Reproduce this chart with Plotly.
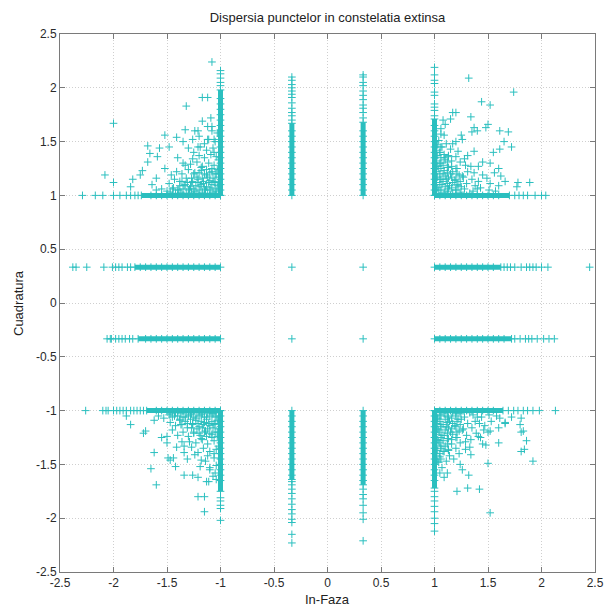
import plotly.graph_objects as go

# ---------------- data ----------------
TITLE = "Dispersia punctelor in constelatia extinsa"
X_LABEL = "In-Faza"
Y_LABEL = "Cuadratura"
tick_vals = [-2.5, -2, -1.5, -1, -0.5, 0, 0.5, 1, 1.5, 2, 2.5]
tick_text = ["-2.5", "-2", "-1.5", "-1", "-0.5", "0", "0.5", "1", "1.5", "2", "2.5"]

# inner constellation points (+-1/3, +-1/3)
inner_x = [-0.333, 0.333, -0.333, 0.333]
inner_y = [0.333, 0.333, -0.333, -0.333]

# vertical columns at I = -1/3 and I = +1/3 (dense run + sparse tail)
colA_x = -0.333
colB_x = 0.333
colA_top_run = [1.00, 1.05, 1.10, 1.15, 1.20, 1.25, 1.30, 1.35, 1.40, 1.45, 1.50, 1.55, 1.60, 1.67]
colA_top_sparse = [1.70, 1.74, 1.77, 1.81, 1.86, 1.91, 1.94, 1.97, 2.00, 2.03, 2.07, 2.10]
colB_top_run = [1.00, 1.05, 1.10, 1.15, 1.20, 1.25, 1.30, 1.35, 1.40, 1.45, 1.50, 1.55, 1.60, 1.68]
colB_top_sparse = [1.72, 1.77, 1.81, 1.84, 1.89, 1.93, 1.97, 2.02, 2.05, 2.10, 2.12]
colA_bot_run = [-1.00, -1.05, -1.10, -1.15, -1.20, -1.25, -1.30, -1.35, -1.40, -1.45, -1.50, -1.55, -1.60, -1.64]
colA_bot_sparse = [-1.66, -1.69, -1.73, -1.77, -1.82, -1.87, -1.92, -1.96, -2.01, -2.04, -2.15, -2.23]
colB_bot_run = [-1.00, -1.05, -1.10, -1.15, -1.20, -1.25, -1.30, -1.35, -1.40, -1.45, -1.50, -1.55, -1.60, -1.65, -1.69]
colB_bot_sparse = [-1.73, -1.78, -1.82, -1.88, -1.95, -2.01, -2.21]

# horizontal rows at Q = +1/3 and Q = -1/3
rowA_y = 0.333
rowB_y = -0.333
rowA_left_run = [-1.00, -1.05, -1.10, -1.15, -1.20, -1.25, -1.30, -1.35, -1.40, -1.45, -1.50, -1.55, -1.60, -1.65, -1.70, -1.75, -1.80]
rowA_left_sparse = [-1.84, -1.87, -1.92, -1.95, -1.98, -2.01, -2.09, -2.25, -2.35, -2.38]
rowA_right_run = [1.00, 1.05, 1.10, 1.15, 1.20, 1.25, 1.30, 1.35, 1.40, 1.45, 1.50, 1.55, 1.62]
rowA_right_sparse = [1.65, 1.68, 1.71, 1.75, 1.81, 1.86, 1.89, 1.92, 1.95, 2.00, 2.06, 2.45]
rowB_left_run = [-1.00, -1.05, -1.10, -1.15, -1.20, -1.25, -1.30, -1.35, -1.40, -1.45, -1.50, -1.55, -1.60, -1.65, -1.70, -1.77]
rowB_left_sparse = [-1.82, -1.85, -1.89, -1.92, -1.95, -1.98, -2.02, -2.03, -2.06]
rowB_right_run = [1.00, 1.05, 1.10, 1.15, 1.20, 1.25, 1.30, 1.35, 1.40, 1.45, 1.50, 1.55, 1.60, 1.65, 1.72]
rowB_right_sparse = [1.75, 1.80, 1.85, 1.88, 1.91, 1.96, 2.02, 2.07, 2.12]

# corner clusters: edge along Q=+-1 ("base") and along I=+-1 ("edge")
tl_base_run = [-1.00, -1.05, -1.10, -1.15, -1.20, -1.25, -1.30, -1.35, -1.40, -1.45, -1.50, -1.55, -1.60, -1.65, -1.74]
tl_base_sparse = [-1.77, -1.80, -1.84, -1.88, -1.94, -2.00, -2.10, -2.17, -2.29]
tl_edge_run = [1.00, 1.05, 1.10, 1.15, 1.20, 1.25, 1.30, 1.35, 1.40, 1.45, 1.50, 1.55, 1.60, 1.65, 1.70, 1.75, 1.80, 1.85, 1.90, 1.98]
tl_edge_sparse = [2.02, 2.05, 2.09, 2.13, 2.16]
tr_base_run = [1.00, 1.05, 1.10, 1.15, 1.20, 1.25, 1.30, 1.35, 1.40, 1.45, 1.50, 1.55, 1.60, 1.70]
tr_base_sparse = [1.75, 1.79, 1.83, 1.87, 1.94, 2.00, 2.04]
tr_edge_run = [1.00, 1.05, 1.10, 1.15, 1.20, 1.25, 1.30, 1.35, 1.40, 1.45, 1.50, 1.55, 1.60, 1.65, 1.71]
tr_edge_sparse = [1.74, 1.79, 1.82, 1.85, 1.93, 1.96, 2.04, 2.07, 2.12, 2.19]
bl_base_run = [-1.00, -1.05, -1.10, -1.15, -1.20, -1.25, -1.30, -1.35, -1.40, -1.45, -1.50, -1.55, -1.60, -1.69]
bl_base_sparse = [-1.72, -1.75, -1.78, -1.81, -1.84, -1.88, -1.91, -1.94, -1.97, -2.00, -2.05, -2.07, -2.10, -2.26]
bl_edge_run = [-1.00, -1.05, -1.10, -1.15, -1.20, -1.25, -1.30, -1.35, -1.40, -1.45, -1.50, -1.55, -1.60, -1.65, -1.75]
bl_edge_sparse = [-1.81, -1.84, -1.88, -1.91, -2.02]
br_base_run = [1.00, 1.05, 1.10, 1.15, 1.20, 1.25, 1.30, 1.35, 1.40, 1.45, 1.50, 1.55, 1.64]
br_base_sparse = [1.69, 1.74, 1.78, 1.83, 1.87, 1.92, 1.98, 2.13]
br_edge_run = [-1.00, -1.05, -1.10, -1.15, -1.20, -1.25, -1.30, -1.35, -1.40, -1.45, -1.50, -1.55, -1.60, -1.65, -1.72]
br_edge_sparse = [-1.75, -1.80, -1.84, -1.89, -1.94, -2.00, -2.05, -2.12]

# scattered points inside each corner cluster (estimated)
tl_scatter_x = [-1.04, -1.09, -1.14, -1.19, -1.24, -1.29, -1.34, -1.39, -1.44, -1.50, -1.55,
                -1.05, -1.10, -1.16, -1.21, -1.27, -1.32, -1.38, -1.43, -1.48,
                -1.04, -1.08, -1.13, -1.18, -1.24, -1.30, -1.36, -1.41,
                -1.06, -1.11, -1.17, -1.22, -1.28, -1.33,
                -1.04, -1.09, -1.15, -1.20, -1.26,
                -1.07, -1.13, -1.19, -1.05, -1.11, -1.03,
                -1.60, -1.64, -1.46, -1.52, -1.35, -1.40, -1.25, -1.30, -1.15, -1.20, -1.08, -1.12,
                -1.08, -1.32, -1.17, -1.12, -1.09, -1.17, -2.00, -1.08, -1.24, -1.21, -1.33, -1.52,
                -1.41, -1.35, -1.26, -1.12, -1.06, -1.68, -1.57, -1.48, -1.66, -1.59, -1.21, -2.08,
                -2.00, -1.73, -1.75, -1.82, -1.84, -1.68, -1.60,
                -1.02, -1.07, -1.12, -1.17, -1.22, -1.27, -1.32, -1.37, -1.42, -1.47,
                -1.03, -1.08, -1.13, -1.18, -1.23, -1.28, -1.33, -1.38,
                -1.02, -1.07, -1.12, -1.17, -1.22, -1.27, -1.03, -1.08, -1.13, -1.18, -1.02, -1.06,
                -1.05, -1.10, -1.15, -1.20, -1.25, -1.30, -1.35, -1.40, -1.45,
                -1.06, -1.11, -1.16, -1.21, -1.26, -1.31, -1.36, -1.05, -1.10, -1.15, -1.20, -1.25]
tl_scatter_y = [1.04, 1.07, 1.05, 1.08, 1.04, 1.06, 1.09, 1.05, 1.07, 1.04, 1.06,
                1.12, 1.14, 1.11, 1.15, 1.12, 1.16, 1.13, 1.15, 1.11,
                1.20, 1.22, 1.19, 1.23, 1.21, 1.24, 1.20, 1.22,
                1.28, 1.30, 1.27, 1.31, 1.29, 1.28,
                1.36, 1.38, 1.35, 1.37, 1.34,
                1.44, 1.42, 1.45, 1.50, 1.52, 1.58,
                1.05, 1.10, 1.19, 1.25, 1.30, 1.35, 1.40, 1.44, 1.48, 1.55, 1.60, 1.64,
                2.24, 1.83, 1.91, 1.91, 1.72, 1.69, 1.67, 1.64, 1.60, 1.60, 1.61, 1.56,
                1.54, 1.50, 1.52, 1.52, 1.52, 1.46, 1.44, 1.45, 1.39, 1.36, 1.45, 1.19,
                1.12, 1.23, 1.19, 1.15, 1.08, 1.31, 1.16,
                1.02, 1.03, 1.02, 1.03, 1.02, 1.03, 1.02, 1.03, 1.02, 1.03,
                1.09, 1.10, 1.08, 1.10, 1.09, 1.08, 1.10, 1.09,
                1.17, 1.16, 1.17, 1.16, 1.17, 1.16, 1.24, 1.25, 1.24, 1.26, 1.33, 1.40,
                1.06, 1.05, 1.06, 1.05, 1.06, 1.05, 1.06, 1.05, 1.06,
                1.13, 1.12, 1.13, 1.12, 1.13, 1.12, 1.13, 1.20, 1.21, 1.20, 1.21, 1.20]

tr_scatter_x = [1.04, 1.07, 1.05, 1.08, 1.04, 1.06, 1.09, 1.05, 1.07, 1.04, 1.06,
                1.12, 1.14, 1.11, 1.15, 1.12, 1.16, 1.13, 1.15, 1.11,
                1.20, 1.22, 1.19, 1.23, 1.21, 1.24, 1.20, 1.22,
                1.28, 1.30, 1.27, 1.31, 1.29, 1.28,
                1.36, 1.38, 1.35, 1.37, 1.34,
                1.43, 1.41, 1.45, 1.51, 1.52, 1.57,
                1.06, 1.10, 1.17, 1.26, 1.31, 1.37, 1.41, 1.45, 1.49, 1.56, 1.60, 1.66,
                1.32, 1.74, 1.44, 1.52, 1.17, 1.20, 1.08, 1.15, 1.34, 1.50, 1.48, 1.37,
                1.40, 1.35, 1.09, 1.25, 1.61, 1.69, 1.20, 1.65, 1.72, 1.61, 1.55, 1.52,
                1.60, 1.62, 1.78, 1.89, 1.77,
                1.02, 1.03, 1.02, 1.03, 1.02, 1.03, 1.02, 1.03, 1.02, 1.03,
                1.09, 1.10, 1.08, 1.10, 1.09, 1.08, 1.10, 1.09,
                1.17, 1.16, 1.17, 1.16, 1.17, 1.16, 1.24, 1.25, 1.24, 1.26, 1.33, 1.40,
                1.06, 1.05, 1.06, 1.05, 1.06, 1.05, 1.06, 1.05, 1.06,
                1.13, 1.12, 1.13, 1.12, 1.13, 1.12, 1.13, 1.20, 1.21, 1.20, 1.21, 1.20]
tr_scatter_y = [1.05, 1.10, 1.15, 1.20, 1.25, 1.30, 1.35, 1.40, 1.45, 1.51, 1.57,
                1.04, 1.09, 1.15, 1.20, 1.26, 1.32, 1.37, 1.43, 1.48,
                1.05, 1.09, 1.14, 1.19, 1.25, 1.31, 1.36, 1.41,
                1.06, 1.11, 1.17, 1.22, 1.28, 1.34,
                1.04, 1.09, 1.15, 1.21, 1.27,
                1.07, 1.13, 1.19, 1.05, 1.11, 1.04,
                1.62, 1.66, 1.48, 1.52, 1.37, 1.41, 1.27, 1.31, 1.16, 1.21, 1.09, 1.13,
                2.09, 1.96, 1.87, 1.84, 1.77, 1.77, 1.70, 1.71, 1.73, 1.66, 1.63, 1.63,
                1.60, 1.59, 1.56, 1.56, 1.60, 1.59, 1.50, 1.50, 1.45, 1.43, 1.40, 1.30,
                1.25, 1.18, 1.12, 1.12, 1.08,
                1.02, 1.07, 1.12, 1.17, 1.22, 1.27, 1.32, 1.37, 1.42, 1.47,
                1.03, 1.08, 1.13, 1.18, 1.23, 1.28, 1.33, 1.38,
                1.02, 1.07, 1.12, 1.17, 1.22, 1.27, 1.03, 1.08, 1.13, 1.18, 1.02, 1.06,
                1.05, 1.10, 1.15, 1.20, 1.25, 1.30, 1.35, 1.40, 1.45,
                1.06, 1.11, 1.16, 1.21, 1.26, 1.31, 1.36, 1.05, 1.10, 1.15, 1.20, 1.25]

bl_scatter_x = [-1.04, -1.08, -1.13, -1.18, -1.23, -1.28, -1.33, -1.38, -1.43, -1.48, -1.53,
                -1.05, -1.10, -1.15, -1.20, -1.26, -1.31, -1.37, -1.42, -1.47,
                -1.03, -1.08, -1.14, -1.19, -1.25, -1.30, -1.35, -1.40,
                -1.06, -1.12, -1.17, -1.23, -1.29, -1.34,
                -1.04, -1.10, -1.16, -1.21, -1.27,
                -1.06, -1.12, -1.18, -1.04, -1.10, -1.05,
                -1.58, -1.62, -1.45, -1.50, -1.36, -1.41, -1.24, -1.31, -1.14, -1.19, -1.07, -1.11,
                -1.88, -1.84, -1.72, -1.70, -1.62, -1.65, -1.60, -1.49, -1.47, -1.44, -1.34, -1.34,
                -1.26, -1.21, -1.13, -1.21, -1.15, -1.15, -1.04, -1.50, -1.55, -1.42, -1.10,
                -1.02, -1.07, -1.12, -1.17, -1.22, -1.27, -1.32, -1.37, -1.42, -1.47,
                -1.03, -1.08, -1.13, -1.18, -1.23, -1.28, -1.33, -1.38,
                -1.02, -1.07, -1.12, -1.17, -1.22, -1.27, -1.03, -1.08, -1.13, -1.18, -1.02, -1.06,
                -1.05, -1.10, -1.15, -1.20, -1.25, -1.30, -1.35, -1.40, -1.45,
                -1.06, -1.11, -1.16, -1.21, -1.26, -1.31, -1.36, -1.05, -1.10, -1.15, -1.20, -1.25]
bl_scatter_y = [-1.05, -1.03, -1.06, -1.04, -1.07, -1.04, -1.06, -1.08, -1.05, -1.04, -1.07,
                -1.12, -1.14, -1.11, -1.15, -1.12, -1.16, -1.13, -1.14, -1.11,
                -1.20, -1.22, -1.19, -1.23, -1.21, -1.24, -1.20, -1.23,
                -1.28, -1.31, -1.27, -1.30, -1.29, -1.33,
                -1.36, -1.38, -1.35, -1.39, -1.34,
                -1.44, -1.42, -1.46, -1.51, -1.53, -1.58,
                -1.05, -1.09, -1.18, -1.24, -1.29, -1.34, -1.41, -1.45, -1.47, -1.52, -1.61, -1.66,
                -1.05, -1.13, -1.21, -1.19, -1.39, -1.54, -1.69, -1.44, -1.46, -1.44, -1.39, -1.60,
                -1.60, -1.62, -1.66, -1.80, -1.80, -1.94, -1.64, -1.30, -1.25, -1.52, -1.55,
                -1.02, -1.03, -1.02, -1.03, -1.02, -1.03, -1.02, -1.03, -1.02, -1.03,
                -1.09, -1.10, -1.08, -1.10, -1.09, -1.08, -1.10, -1.09,
                -1.17, -1.16, -1.17, -1.16, -1.17, -1.16, -1.24, -1.25, -1.24, -1.26, -1.33, -1.40,
                -1.06, -1.05, -1.06, -1.05, -1.06, -1.05, -1.06, -1.05, -1.06,
                -1.13, -1.12, -1.13, -1.12, -1.13, -1.12, -1.13, -1.20, -1.21, -1.20, -1.21, -1.20]

br_scatter_x = [1.05, 1.03, 1.06, 1.04, 1.07, 1.04, 1.06, 1.08, 1.05, 1.04, 1.07,
                1.12, 1.14, 1.11, 1.15, 1.12, 1.16, 1.13, 1.14, 1.11,
                1.20, 1.22, 1.19, 1.23, 1.21, 1.24, 1.20, 1.23,
                1.28, 1.31, 1.27, 1.30, 1.29, 1.33,
                1.36, 1.38, 1.35, 1.39, 1.34,
                1.44, 1.42, 1.46, 1.51, 1.53, 1.58,
                1.05, 1.09, 1.18, 1.24, 1.29, 1.34, 1.41, 1.45, 1.47, 1.52, 1.61, 1.66,
                1.81, 1.80, 1.83, 1.81, 1.86, 1.84, 1.81, 1.92, 1.60, 1.50, 1.52, 1.42,
                1.31, 1.21, 1.32, 1.26, 1.12, 1.66, 1.72, 1.60, 1.48, 1.50, 1.43,
                1.02, 1.03, 1.02, 1.03, 1.02, 1.03, 1.02, 1.03, 1.02, 1.03,
                1.09, 1.10, 1.08, 1.10, 1.09, 1.08, 1.10, 1.09,
                1.17, 1.16, 1.17, 1.16, 1.17, 1.16, 1.24, 1.25, 1.24, 1.26, 1.33, 1.40,
                1.06, 1.05, 1.06, 1.05, 1.06, 1.05, 1.06, 1.05, 1.06,
                1.13, 1.12, 1.13, 1.12, 1.13, 1.12, 1.13, 1.20, 1.21, 1.20, 1.21, 1.20]
br_scatter_y = [-1.04, -1.08, -1.13, -1.18, -1.23, -1.28, -1.33, -1.38, -1.43, -1.48, -1.53,
                -1.05, -1.10, -1.15, -1.20, -1.26, -1.31, -1.37, -1.42, -1.47,
                -1.03, -1.08, -1.14, -1.19, -1.25, -1.30, -1.35, -1.40,
                -1.06, -1.12, -1.17, -1.23, -1.29, -1.34,
                -1.04, -1.10, -1.16, -1.21, -1.27,
                -1.06, -1.12, -1.18, -1.04, -1.10, -1.05,
                -1.58, -1.62, -1.45, -1.50, -1.36, -1.41, -1.24, -1.31, -1.14, -1.19, -1.07, -1.11,
                -1.07, -1.13, -1.19, -1.20, -1.28, -1.36, -1.38, -1.47, -1.30, -1.49, -1.95, -1.73,
                -1.72, -1.75, -1.60, -1.55, -1.58, -1.12, -1.06, -1.16, -1.32, -1.20, -1.25,
                -1.02, -1.07, -1.12, -1.17, -1.22, -1.27, -1.32, -1.37, -1.42, -1.47,
                -1.03, -1.08, -1.13, -1.18, -1.23, -1.28, -1.33, -1.38,
                -1.02, -1.07, -1.12, -1.17, -1.22, -1.27, -1.03, -1.08, -1.13, -1.18, -1.02, -1.06,
                -1.05, -1.10, -1.15, -1.20, -1.25, -1.30, -1.35, -1.40, -1.45,
                -1.06, -1.11, -1.16, -1.21, -1.26, -1.31, -1.36, -1.05, -1.10, -1.15, -1.20, -1.25]

# ---------------- styling ----------------
COLOR = "#2BBFBF"
MARKER = dict(symbol="cross-thin", size=5.5, color=COLOR, line=dict(color=COLOR, width=1))

fig = go.Figure()


def add_points(xs, ys):
    fig.add_trace(go.Scatter(x=xs, y=ys, mode="markers", marker=MARKER,
                             showlegend=False, hoverinfo="x+y"))


def add_run(xs, ys):
    fig.add_trace(go.Scatter(x=xs, y=ys, mode="lines+markers", marker=MARKER,
                             line=dict(color=COLOR, width=5),
                             showlegend=False, hoverinfo="x+y"))


# inner points
add_points(inner_x, inner_y)

# columns
for cx, run, sparse in [(colA_x, colA_top_run, colA_top_sparse), (colB_x, colB_top_run, colB_top_sparse),
                        (colA_x, colA_bot_run, colA_bot_sparse), (colB_x, colB_bot_run, colB_bot_sparse)]:
    add_run([cx] * len(run), run)
    add_points([cx] * len(sparse), sparse)

# rows
for ry, run, sparse in [(rowA_y, rowA_left_run, rowA_left_sparse), (rowA_y, rowA_right_run, rowA_right_sparse),
                        (rowB_y, rowB_left_run, rowB_left_sparse), (rowB_y, rowB_right_run, rowB_right_sparse)]:
    add_run(run, [ry] * len(run))
    add_points(sparse, [ry] * len(sparse))

# corner edges
for base_y, run, sparse in [(1, tl_base_run, tl_base_sparse), (1, tr_base_run, tr_base_sparse),
                            (-1, bl_base_run, bl_base_sparse), (-1, br_base_run, br_base_sparse)]:
    add_run(run, [base_y] * len(run))
    add_points(sparse, [base_y] * len(sparse))
for edge_x, run, sparse in [(-1, tl_edge_run, tl_edge_sparse), (1, tr_edge_run, tr_edge_sparse),
                            (-1, bl_edge_run, bl_edge_sparse), (1, br_edge_run, br_edge_sparse)]:
    add_run([edge_x] * len(run), run)
    add_points([edge_x] * len(sparse), sparse)

# corner scatter
add_points(tl_scatter_x, tl_scatter_y)
add_points(tr_scatter_x, tr_scatter_y)
add_points(bl_scatter_x, bl_scatter_y)
add_points(br_scatter_x, br_scatter_y)

FONT = "Liberation Sans, Arial, Helvetica, sans-serif"
axis_common = dict(
    range=[-2.5, 2.5], tickmode="array", tickvals=tick_vals, ticktext=tick_text,
    showgrid=True, gridcolor="#cfcfcf", griddash="1px,2px", gridwidth=1,
    zeroline=False, showline=True, linecolor="#7a7a7a", linewidth=1, mirror="ticks",
    ticks="inside", ticklen=5, tickcolor="#7a7a7a",
    tickfont=dict(family=FONT, size=12, color="#2a2a2a"),
)

fig.update_layout(
    width=608, height=610,
    margin=dict(l=60, r=13, t=34, b=38, autoexpand=False),
    paper_bgcolor="white", plot_bgcolor="white",
    title=dict(text=TITLE, x=(60 + 595) / 2 / 608, xanchor="center", y=1 - 17 / 610, yanchor="middle",
               font=dict(family=FONT, size=13, color="#222222")),
    xaxis=dict(**axis_common),
    yaxis=dict(**axis_common),
    annotations=[
        dict(text=X_LABEL, xref="paper", yref="paper", x=0.5, y=-(599 - 572) / 538, xanchor="center",
             yanchor="middle", showarrow=False, font=dict(family=FONT, size=13, color="#222222")),
        dict(text=Y_LABEL, xref="paper", yref="paper", x=-(60 - 18) / 535, y=0.5, xanchor="center",
             yanchor="middle", textangle=-90, showarrow=False, font=dict(family=FONT, size=13, color="#222222")),
    ],
)

fig.write_html("out.html", config={"displayModeBar": False},
               post_script="document.body.style.margin='0';document.body.style.overflow='hidden';")
